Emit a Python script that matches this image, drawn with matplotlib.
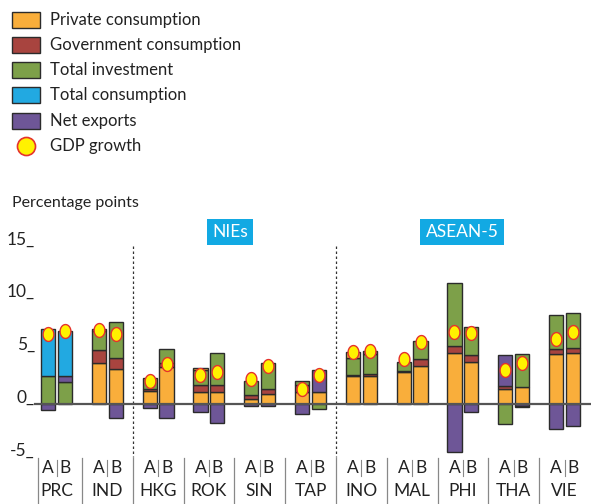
import matplotlib
matplotlib.use("Agg")
import matplotlib.pyplot as plt
from matplotlib.patches import Rectangle
from matplotlib.path import Path
import numpy as np

plt.rcParams['font.family'] = ['Lato', 'DejaVu Sans']

countries = ['PRC', 'IND', 'HKG', 'ROK', 'SIN', 'TAP', 'INO', 'MAL', 'PHI', 'THA', 'VIE']

# scenario A
private_a = [0, 3.95, 1.25, 1.19, 0.5, 1.19, 2.7, 3.1, 4.83, 1.42, 4.8]
gov_a = [0, 1.2, 0.23, 0.64, 0.38, 0.64, 0.1, 0.1, 0.72, 0.35, 0.44]
invest_a = [2.7, 1.83, 0.98, 1.42, 1.36, 0.41, 1.55, 0.85, 5.95, -1.86, 3.18]
totcons_a = [4.4, 0, 0, 0, 0, 0, 0, 0, 0, 0, 0]
netexp_a = [-0.57, 0.15, -0.32, -0.76, -0.16, -0.92, 0, 0, -4.54, 2.87, -2.33]
other_a = [0, 0, 0, 0.22, 0, 0, 0.63, 0, 0, 0, 0]
gdp_a = [6.7, 7.05, 2.2, 2.77, 2.37, 1.42, 4.95, 4.26, 6.88, 3.25, 6.18]

# scenario B
private_b = [0, 3.31, 3.5, 1.19, 0.95, 1.19, 2.68, 3.63, 3.97, 1.61, 4.89]
gov_b = [0, 1.1, 0.38, 0.64, 0.47, 0, 0.2, 0.67, 0.73, 0, 0.44]
invest_b = [2.15, 3.41, 1.32, 3.0, 2.46, -0.47, 1.88, 1.7, 2.59, 3.12, 3.35]
totcons_b = [4.2, 0, 0, 0, 0, 0, 0, 0, 0, 0, 0]
netexp_b = [0.55, -1.27, -1.33, -1.8, -0.16, 2.06, 0.28, 0, -0.69, -0.15, -2.02]
other_b = [0, 0, 0, 0, 0, 0, 0, 0, 0, -0.15, 0]
gdp_b = [6.9, 6.66, 3.82, 3.06, 3.66, 2.77, 5.08, 5.87, 6.72, 3.88, 6.81]

yticks = [15, 10, 5, 0, -5]

c_orange = '#F9AE3B'
c_red = '#A8443F'
c_green = '#7DA049'
c_blue = '#22A9E1'
c_purple = '#6E5697'
c_edge = '#2b2b2b'

W, H = 591, 504
fig = plt.figure(figsize=(W / 100, H / 100), dpi=100)

# axes spanning the whole figure: 1 group = 50.8 px, 1 point = 10.56 px
x0_px, gstep = 56.5, 50.8
y0_px, ystep = 404.3, 10.56
ax = fig.add_axes([0, 0, 1, 1])
ax.set_xlim(-x0_px / gstep, (W - x0_px) / gstep)
ax.set_ylim((y0_px - H) / ystep, y0_px / ystep)
ax.axis('off')


def fp(x, y):
    # pixel (from top-left) -> figure fraction
    return x / W, 1 - y / H


off = 0.167
bw = 0.28
xs = np.arange(len(countries))

series_a = [(private_a, c_orange), (gov_a, c_red), (invest_a, c_green),
            (netexp_a, c_purple), (totcons_a, c_blue), (other_a, c_orange)]
series_b = [(private_b, c_orange), (gov_b, c_red), (invest_b, c_green),
            (netexp_b, c_purple), (totcons_b, c_blue), (other_b, c_orange)]

for series, shift in [(series_a, -off), (series_b, off)]:
    pos = np.zeros(len(countries))
    neg = np.zeros(len(countries))
    for vals, col in series:
        v = np.array(vals, dtype=float)
        bottom = np.where(v >= 0, pos, neg)
        mask = v != 0
        ax.bar(xs[mask] + shift, v[mask], bw, bottom=bottom[mask], color=col,
               edgecolor=c_edge, linewidth=1.0, zorder=3)
        pos = pos + np.where(v > 0, v, 0)
        neg = neg + np.where(v < 0, v, 0)

# zero line
ax.plot([(35 - x0_px) / gstep, (W - x0_px) / gstep], [0, 0], color='#555555', lw=1.6, zorder=4)

# GDP growth markers (slightly tall ellipses)
t = np.linspace(0, 2 * np.pi, 60)
ell = Path(np.column_stack([0.78 * np.cos(t), np.sin(t)]))
ax.scatter(xs - off, gdp_a, marker=ell, s=100, color='#FFF200', edgecolor='#E5322D',
           linewidth=1.0, zorder=6)
ax.scatter(xs + off, gdp_b, marker=ell, s=100, color='#FFF200', edgecolor='#E5322D',
           linewidth=1.0, zorder=6)

# group dividers
for b in [1.5, 5.5]:
    ax.plot([b, b], [15, -5], color='#333333', lw=0.9, ls=(0, (2, 2)), zorder=2)

# y labels
for v in yticks:
    ax.text((35 - x0_px) / gstep, v + 0.15, f'{v}_', ha='right', va='baseline',
            fontsize=12.5, color='#222222')

# x labels
sep_top, sep_bot = -5.1, (y0_px - H) / ystep
ax.plot([-0.37, -0.37], [sep_top, sep_bot], color='#888888', lw=0.9)
for i, name in enumerate(countries):
    if i < len(countries) - 1:
        ax.plot([i + 0.5, i + 0.5], [sep_top, sep_bot], color='#888888', lw=0.9)
    ya = (y0_px - 468) / ystep
    ax.text(i - off, ya, 'A', ha='center', va='center', fontsize=12.5, color='#222222')
    ax.text(i + off, ya, 'B', ha='center', va='center', fontsize=12.5, color='#222222')
    ax.plot([i, i], [(y0_px - 460) / ystep, (y0_px - 476) / ystep], color='#888888', lw=0.8)
    ax.text(i, (y0_px - 491) / ystep, name, ha='center', va='center', fontsize=12.5,
            color='#222222')

# region boxes
for label, cx in [('NIEs', 230), ('ASEAN-5', 462)]:
    fig.text(*fp(cx, 232), label, ha='center', va='center', fontsize=12.5, color='white',
             bbox=dict(boxstyle='square,pad=0.3', facecolor='#12A9E3', edgecolor='none'))

fig.text(*fp(12, 203), 'Percentage points', ha='left', va='center', fontsize=11.5,
         color='#222222')

# legend
legend_items = [('Private consumption', c_orange), ('Government consumption', c_red),
                ('Total investment', c_green), ('Total consumption', c_blue),
                ('Net exports', c_purple)]
for k, (lab, col) in enumerate(legend_items):
    yc = 19.5 + k * 25.3
    x, y = fp(12, yc + 8)
    fig.patches.append(Rectangle((x, y), 28 / W, 16 / H, transform=fig.transFigure,
                                 facecolor=col, edgecolor=c_edge, linewidth=1.0))
    fig.text(*fp(50, yc), lab, ha='left', va='center', fontsize=12, color='#222222')
yc = 19.5 + 5 * 25.3
fig.add_artist(plt.Line2D([26 / W], [1 - yc / H], marker='o', markersize=13,
                          markerfacecolor='#FFF200', markeredgecolor='#E5322D',
                          markeredgewidth=1.2, transform=fig.transFigure))
fig.text(*fp(50, yc), 'GDP growth', ha='left', va='center', fontsize=12, color='#222222')

fig.savefig('out.png', dpi=100)
